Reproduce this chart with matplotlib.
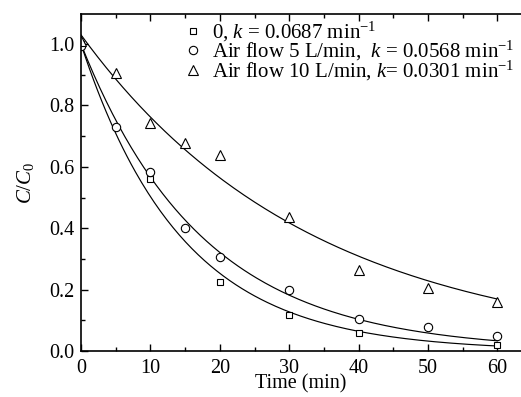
import numpy as np
import matplotlib
matplotlib.use("Agg")
import matplotlib.pyplot as plt

plt.rcParams['font.family'] = ['Liberation Serif', 'DejaVu Serif']
plt.rcParams['mathtext.fontset'] = 'custom'
plt.rcParams['mathtext.rm'] = 'Liberation Serif'
plt.rcParams['mathtext.it'] = 'Liberation Serif:italic'

# measured points
t_sq = [0, 10, 20, 30, 40, 60]
c_sq = [1.00, 0.56, 0.226, 0.116, 0.058, 0.019]

t_ci = [0, 5, 10, 15, 20, 30, 40, 50, 60]
c_ci = [0.995, 0.729, 0.583, 0.400, 0.305, 0.199, 0.104, 0.078, 0.048]

t_tr = [0, 5, 10, 15, 20, 30, 40, 50, 60]
c_tr = [1.01, 0.905, 0.744, 0.678, 0.638, 0.435, 0.264, 0.206, 0.160]

# first-order fits: C/C0 = A * exp(-k t)
k_vals = [0.0687, 0.0568, 0.0301]
a_vals = [1.0, 1.0, 1.03]

labels = [r'0, $k$ = 0.0687 min$^{\mathregular{-1}}$',
          r'Air flow 5 L/min,  $k$ = 0.0568 min$^{\mathregular{-1}}$',
          r'Air flow 10 L/min, $k$= 0.0301 min$^{\mathregular{-1}}$']

fig = plt.figure(figsize=(5.21, 3.97), dpi=100)
ax = fig.add_axes([0.1555, 0.1159, 0.8445, 0.8488])

tt = np.linspace(0, 60, 200)
for k, a in zip(k_vals, a_vals):
    ax.plot(tt, a * np.exp(-k * tt), color='black', lw=0.85)

mk = dict(linestyle='none', mfc='white', mec='black', mew=0.8)
ax.plot(t_sq, c_sq, marker='s', ms=5, label=labels[0], **mk)
ax.plot(t_ci, c_ci, marker='o', ms=6, label=labels[1], **mk)
ax.plot(t_tr, c_tr, marker='^', ms=7, label=labels[2], **mk)

ax.set_xlim(0, 63.4)
ax.set_ylim(0, 1.098)
ax.set_xticks([0, 10, 20, 30, 40, 50, 60])
ax.set_xticks(np.arange(5, 63, 10), minor=True)
ax.set_yticks([0.0, 0.2, 0.4, 0.6, 0.8, 1.0])
ax.set_yticklabels(['0.0', '0.2', '0.4', '0.6', '0.8', '1.0'])
ax.set_yticks([0.1, 0.3, 0.5, 0.7, 0.9], minor=True)
ax.tick_params(which='both', direction='in', top=True, right=False, labelsize=14.5, width=1.0)
ax.tick_params(which='major', length=5)
ax.tick_params(axis='x', which='major', pad=6)
ax.tick_params(axis='y', which='major', pad=5)
ax.tick_params(which='minor', length=3)
ax.spines['right'].set_visible(False)
for s in ['left', 'bottom', 'top']:
    ax.spines[s].set_linewidth(1.2)

ax.set_xlabel('Time (min)', fontsize=14.5, labelpad=-3)
ax.set_ylabel(r'$C/C_{\mathregular{0}}$', fontsize=15, labelpad=9)

ax.legend(loc='upper left', bbox_to_anchor=(0.2, 1.027), frameon=False, fontsize=15,
          handlelength=0.95, handletextpad=0.4, labelspacing=-0.22, borderaxespad=0.3)

fig.savefig('out.png', dpi=100)
